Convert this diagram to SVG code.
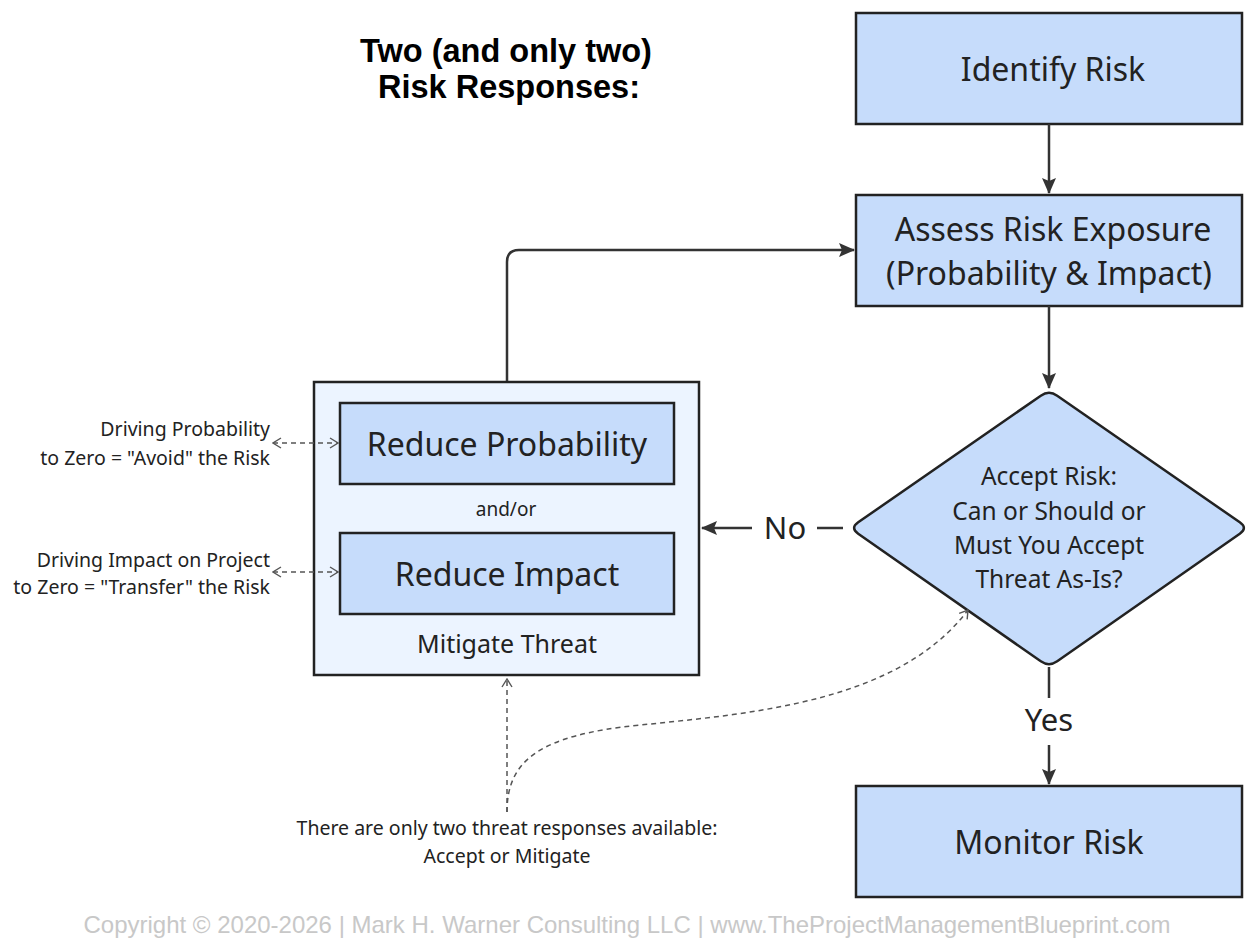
<svg xmlns="http://www.w3.org/2000/svg" width="1255" height="944" viewBox="0 0 1255 944">
<style>
.node{fill:#c6dcfb;stroke:#222;stroke-width:2.5}
.group{fill:#ecf4ff;stroke:#222;stroke-width:2.5}
.nt{font-family:"Noto Sans","Open Sans",sans-serif;fill:#222;text-anchor:middle}
.lbl{font-family:"Noto Sans","Open Sans",sans-serif;fill:#222;font-size:19.5px}
.edge{fill:none;stroke:#333;stroke-width:2.5}
.dash{fill:none;stroke:#555;stroke-width:1.5;stroke-dasharray:5 4}
.title{font-family:"Liberation Sans",Arial,sans-serif;font-weight:bold;font-size:32.5px;fill:#000;text-anchor:middle}
.copy{font-family:"Liberation Sans",Arial,sans-serif;font-size:24px;fill:#c8c8c8;text-anchor:middle}
</style>
<defs>
<marker id="arr" viewBox="0 0 16 16" refX="15" refY="8" markerWidth="16" markerHeight="16" markerUnits="userSpaceOnUse" orient="auto">
<path d="M0,1 L16,8 L0,15 L3,8 Z" fill="#333"/>
</marker>
<marker id="open" viewBox="0 0 10 12" refX="9" refY="6" markerWidth="10" markerHeight="12" markerUnits="userSpaceOnUse" orient="auto-start-reverse">
<path d="M1,1 L9,6 L1,11" fill="none" stroke="#555" stroke-width="1.4"/>
</marker>
</defs>
<rect width="1255" height="944" fill="#fff"/>

<g id="title">
<text class="title" x="506" y="62">Two (and only two)</text>
<text class="title" x="509" y="98">Risk Responses:</text>
</g>

<g id="identify">
<rect class="node" x="856" y="13" width="386" height="111"/>
<text class="nt" x="1053" y="81" font-size="32">Identify Risk</text>
</g>

<g id="assess">
<rect class="node" x="856" y="195" width="386" height="111"/>
<text class="nt" x="1053" y="241" font-size="32">Assess Risk Exposure</text>
<text class="nt" x="1049" y="285" font-size="32">(Probability &amp; Impact)</text>
</g>

<g id="decision">
<path class="node" d="M1040.8,395.7 Q1049,390 1057.2,395.7 L1239.8,522.3 Q1248,528 1239.8,533.7 L1057.2,661.3 Q1049,667 1040.8,661.3 L858.2,533.7 Q850,528 858.2,522.3 Z"/>
<text class="nt" x="1049" y="485" font-size="24.5">Accept Risk:</text>
<text class="nt" x="1049" y="520" font-size="24.5">Can or Should or</text>
<text class="nt" x="1049" y="554" font-size="24.5">Must You Accept</text>
<text class="nt" x="1049" y="588" font-size="24.5">Threat As-Is?</text>
</g>

<g id="mitigate">
<rect class="group" x="314" y="382" width="385" height="293"/>
<text class="nt" x="506" y="516" font-size="19">and/or</text>
<text class="nt" x="507" y="653" font-size="25">Mitigate Threat</text>
</g>

<g id="reduce-probability">
<rect class="node" x="340" y="403" width="334" height="81"/>
<text class="nt" x="507" y="456" font-size="32">Reduce Probability</text>
</g>

<g id="reduce-impact">
<rect class="node" x="340" y="533" width="334" height="81"/>
<text class="nt" x="507" y="586" font-size="32">Reduce Impact</text>
</g>

<g id="monitor">
<rect class="node" x="856" y="786" width="386" height="111"/>
<text class="nt" x="1049" y="854" font-size="32">Monitor Risk</text>
</g>

<g id="notes">
<text class="lbl" x="270" y="436" text-anchor="end">Driving Probability</text>
<text class="lbl" x="270" y="465" text-anchor="end">to Zero = "Avoid" the Risk</text>
<text class="lbl" x="270" y="567" text-anchor="end">Driving Impact on Project</text>
<text class="lbl" x="270" y="594" text-anchor="end">to Zero = "Transfer" the Risk</text>
<text class="lbl" x="507" y="835" text-anchor="middle">There are only two threat responses available:</text>
<text class="lbl" x="507" y="863" text-anchor="middle">Accept or Mitigate</text>
</g>

<g id="connectors">
<path class="edge" d="M1049,124 V193" marker-end="url(#arr)"/>
<path class="edge" d="M1049,306 V388" marker-end="url(#arr)"/>
<path class="edge" d="M507,381 V262 Q507,250 519,250 H854" marker-end="url(#arr)"/>
<path class="edge" d="M843,528 H817"/>
<path class="edge" d="M752,528 H702" marker-end="url(#arr)"/>
<text class="nt" x="785" y="539" font-size="31">No</text>
<path class="edge" d="M1049,667 V698"/>
<path class="edge" d="M1049,745 V784" marker-end="url(#arr)"/>
<text class="nt" x="1049" y="731" font-size="31">Yes</text>
<path class="dash" d="M273,443 H338" marker-start="url(#open)" marker-end="url(#open)"/>
<path class="dash" d="M273,572 H338" marker-start="url(#open)" marker-end="url(#open)"/>
<path class="dash" d="M507,812 V679" marker-end="url(#open)"/>
<path class="dash" d="M507,812 C507,760 540,735 640,725 C760,713 900,700 968,610" marker-end="url(#open)"/>
</g>

<text class="copy" x="627" y="933">Copyright © 2020-2026 | Mark H. Warner Consulting LLC | www.TheProjectManagementBlueprint.com</text>
</svg>
